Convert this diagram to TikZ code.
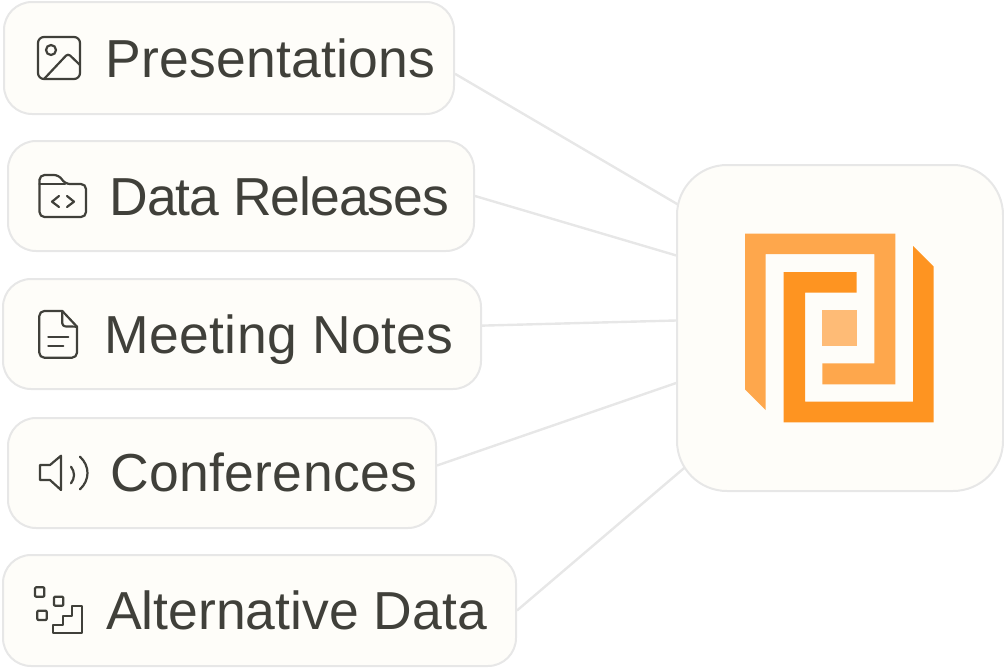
\documentclass[tikz,border=0pt]{standalone}
\usepackage{xcolor}
\usepackage{fontspec}
\setmainfont{Liberation Sans}
\usepackage{tikz}
\usetikzlibrary{positioning,backgrounds}
\definecolor{cardfill}{RGB}{254,253,249}
\definecolor{cardline}{RGB}{231,231,231}
\definecolor{inkgrey}{RGB}{64,64,58}
\definecolor{logolight}{RGB}{254,167,76}
\definecolor{logodark}{RGB}{254,148,33}
\definecolor{logopale}{RGB}{254,187,118}
\tikzset{
  cardbox/.style={draw=cardline,fill=cardfill,line width=2pt,rounded corners=28pt,inner sep=0pt,minimum height=110pt},
  hubbox/.style={draw=cardline,fill=cardfill,line width=2pt,rounded corners=50pt,inner sep=0pt,minimum width=326pt,minimum height=326pt},
  cardtext/.style={anchor=base west,inner sep=0pt,text=inkgrey,font=\fontsize{53.5}{56}\selectfont},
  linkline/.style={draw=cardline,line width=2.4pt},
  iconline/.style={draw=inkgrey,line width=2.2pt,line join=round,line cap=round}
}
\begin{document}
\begin{tikzpicture}[x=1pt,y=-1pt]
  \useasboundingbox (0,0) rectangle (1004,667);
  % cards
  \node[cardbox,minimum width=450pt,minimum height=112pt] (present) at (229,58) {};
  \node[cardbox,minimum width=466pt] (release) at (241,196) {};
  \node[cardbox,minimum width=478pt] (meeting) at (242,334) {};
  \node[cardbox,minimum width=428pt] (confer) at (222,473) {};
  \node[cardbox,minimum width=513pt,minimum height=111pt] (altdata) at (259.5,610.5) {};
  \node[hubbox] (hub) at (840,328) {};
  % labels
  \node[cardtext] (presenttext) at (105.5,77) {\addfontfeature{LetterSpace=0.4}Presentations};
  \node[cardtext] (releasetext) at (109.5,215) {\addfontfeature{LetterSpace=-2}Data Releases};
  \node[cardtext] (meetingtext) at (104.5,353) {\addfontfeature{LetterSpace=0.6}Meeting Notes};
  \node[cardtext] (confertext) at (110,491) {\addfontfeature{LetterSpace=0.7}Conferences};
  \node[cardtext] (altdatatext) at (106,629) {Alternative Data};
  % free ends of the links, inside the hub
  \coordinate (hubinA) at (695,214.5);
  \coordinate (hubinB) at (695,261);
  \coordinate (hubinC) at (695,320);
  \coordinate (hubinD) at (695,376.5);
  \coordinate (hubinE) at (710,446);
  \begin{scope}[on background layer]
    \draw[linkline] (present.-4.3) -- (hubinA);
    \draw[linkline] (release.east) -- (hubinB);
    \draw[linkline] (meeting.2.1) -- (hubinC);
    \draw[linkline] (confer.2.1) -- (hubinD);
    \draw[linkline] (altdata.0.7) -- (hubinE);
  \end{scope}
  % image icon
  \draw[iconline,rounded corners=6pt] (38,37) rectangle (80,79);
  \draw[iconline] (51,50) circle (5);
  \draw[iconline,rounded corners=3pt] (44.5,78.5) -- (68,53.5) -- (80,65);
  % folder icon
  \draw[iconline,rounded corners=5pt] (39.5,184) -- (39.5,175) -- (59,175) -- (65,184) -- (86,184) -- (86,217) -- (39.5,217) -- cycle;
  \draw[iconline] (39.5,184) -- (65,184);
  \draw[iconline] (59,196) -- (52,201.7) -- (59,207);
  \draw[iconline] (67,196) -- (74,201.7) -- (67,207);
  % note icon
  \draw[iconline,rounded corners=5pt] (62.3,311) -- (39.3,311) -- (39.3,357.7) -- (77,357.7) -- (77,326.7);
  \draw[iconline] (62.3,311) -- (77,326.7);
  \draw[iconline,rounded corners=3pt] (62.3,311) -- (62.3,326.3) -- (77,326.7);
  \draw[iconline] (48.3,336.7) -- (68.3,336.7);
  \draw[iconline] (48.3,346) -- (63.3,346);
  % speaker icon
  \draw[iconline] (61,455.7) -- (50,465) -- (40,465) -- (40,480) -- (50,480) -- (61,490) -- cycle;
  \draw[iconline] (71,466.7) .. controls (75,472) and (75,478) .. (71,483.3);
  \draw[iconline] (80,456.7) .. controls (90,466) and (90,480) .. (80,489.3);
  % data icon
  \draw[iconline,rounded corners=1pt] (35,587.3) rectangle (44.3,596.7);
  \draw[iconline,rounded corners=1pt] (54,596.7) rectangle (63.3,605.7);
  \draw[iconline,rounded corners=1pt] (37.3,610.7) rectangle (46.7,620);
  \draw[iconline] (81.7,606) -- (81.7,633.3) -- (53.3,633.3) -- (53.3,625) -- (62.7,625) -- (62.7,615.7) -- (72.3,615.7) -- (72.3,606) -- cycle;
  % logo
  \fill[logolight] (745,233.7) -- (895.3,233.7) -- (895.3,384.3) -- (822.3,384.3) -- (822.3,363.3) -- (874.3,363.3) -- (874.3,254) -- (765.7,254) -- (765.7,410) -- (745,389.3) -- cycle;
  \fill[logodark] (783.7,272) -- (856.7,272) -- (856.7,292.7) -- (805,292.7) -- (805,401.7) -- (913,401.7) -- (913,246) -- (933.7,266.7) -- (933.7,422.3) -- (783.7,422.3) -- cycle;
  \fill[logopale] (822.3,310) rectangle (856.7,345.7);
\end{tikzpicture}
\end{document}
